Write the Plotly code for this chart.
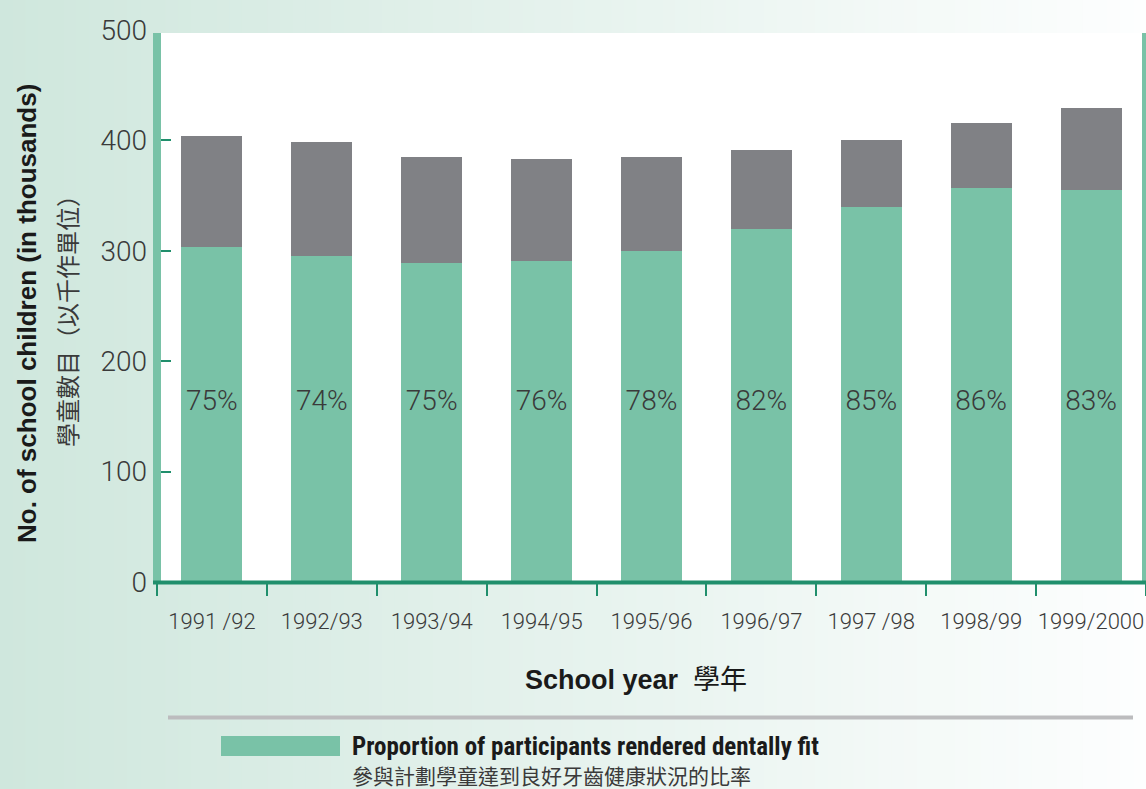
import plotly.graph_objects as go

# ---- data ----
school_years = ["1991 /92", "1992/93", "1993/94", "1994/95", "1995/96",
                "1996/97", "1997 /98", "1998/99", "1999/2000"]
total_children = [404, 399, 385, 383.5, 385, 391, 400, 416, 429]     # thousands
dentally_fit = [303, 295, 289, 291, 300, 320, 340, 357, 355.5]       # thousands
pct_labels = ["75%", "74%", "75%", "76%", "78%", "82%", "85%", "86%", "83%"]
not_fit = [t - f for t, f in zip(total_children, dentally_fit)]

W, H = 1146, 789
L, R, T, B = 157, 0, 30, 207
PW, PH = W - L - R, H - T - B


def px(p):
    return (p - L) / PW


def py(p):
    return (H - B - p) / PH


GREEN = "#79c2a7"
GRAY = "#808185"
DARK_GREEN = "#208f6c"
TXT = "#3a3a3a"
LIGHT = "Roboto, Open Sans, sans-serif"
NARROW = "Liberation Sans Narrow, Arial Narrow, Roboto Condensed, sans-serif"
SANS = "Liberation Sans, Arial, sans-serif"
CJK = "Noto Sans CJK TC, Noto Sans CJK SC, sans-serif"

fig = go.Figure()
fig.add_trace(go.Bar(x=school_years, y=dentally_fit, marker_color=GREEN,
                     marker_line_width=0, hoverinfo="skip", showlegend=False))
fig.add_trace(go.Bar(x=school_years, y=not_fit, marker_color=GRAY,
                     marker_line_width=0, hoverinfo="skip", showlegend=False))
fig.add_trace(go.Scatter(x=school_years, y=[162] * len(school_years), mode="text",
                         text=pct_labels, textposition="middle center",
                         textfont=dict(family=LIGHT, size=28, color=TXT, weight=300),
                         hoverinfo="skip", showlegend=False))

shapes = []
# background gradient (light green -> white)
n = 90
c0 = (207, 231, 221)
c1 = (253, 254, 254)
for i in range(n):
    f = i / (n - 1)
    col = "rgb(%d,%d,%d)" % tuple(round(a + (b - a) * f) for a, b in zip(c0, c1))
    x0 = W * i / n
    x1 = W * (i + 1) / n + 1
    shapes.append(dict(type="rect", xref="paper", yref="paper",
                       x0=px(x0), x1=px(x1), y0=py(H), y1=py(0),
                       fillcolor=col, line_width=0, layer="below"))
# white plot area
shapes.append(dict(type="rect", xref="paper", yref="paper",
                   x0=px(161), x1=px(1142), y0=py(582), y1=py(33),
                   fillcolor="white", line_width=0, layer="below"))
# green side borders
shapes.append(dict(type="rect", xref="paper", yref="paper",
                   x0=px(153), x1=px(161), y0=py(582), y1=py(33),
                   fillcolor=GREEN, line_width=0, layer="above"))
shapes.append(dict(type="rect", xref="paper", yref="paper",
                   x0=px(1142), x1=px(1147), y0=py(582), y1=py(33),
                   fillcolor=GREEN, line_width=0, layer="above"))
# bottom axis line
shapes.append(dict(type="line", xref="paper", yref="paper",
                   x0=px(153), x1=px(1147), y0=py(582.5), y1=py(582.5),
                   line=dict(color=DARK_GREEN, width=4), layer="above"))
# gray separator line
shapes.append(dict(type="line", xref="paper", yref="paper",
                   x0=px(168), x1=px(1133), y0=py(717.5), y1=py(717.5),
                   line=dict(color="#bcbcbe", width=4), layer="above"))
# legend swatch
shapes.append(dict(type="rect", xref="paper", yref="paper",
                   x0=px(221), x1=px(340), y0=py(756), y1=py(736),
                   fillcolor=GREEN, line_width=0, layer="above"))

annotations = [
    dict(text="<b>No. of school children (in thousands)</b>", textangle=-90,
         xref="paper", yref="paper", x=px(27), y=py(314), xanchor="center", yanchor="middle",
         showarrow=False, font=dict(family=SANS, size=26, color="#1a1a1a")),
    dict(text="學童數目（以千作單位）", textangle=-90,
         xref="paper", yref="paper", x=px(66), y=py(315), xanchor="center", yanchor="middle",
         showarrow=False, font=dict(family=CJK, size=24, color=TXT)),
    dict(text="<b>School year</b>  <span style='font-family:Noto Sans CJK TC'>學年</span>",
         xref="paper", yref="paper", x=px(636), y=py(677), xanchor="center", yanchor="middle",
         showarrow=False, font=dict(family=SANS, size=27, color="#1a1a1a")),
    dict(text="<b>Proportion of participants rendered dentally fit</b>",
         xref="paper", yref="paper", x=px(350), y=py(746), xanchor="left", yanchor="middle",
         showarrow=False, font=dict(family=NARROW, size=25, color="#1a1a1a")),
    dict(text="參與計劃學童達到良好牙齒健康狀況的比率",
         xref="paper", yref="paper", x=px(350), y=py(775), xanchor="left", yanchor="middle",
         showarrow=False, font=dict(family=CJK, size=21, color=TXT)),
]

fig.update_layout(
    width=W, height=H, autosize=False,
    margin=dict(l=L, r=R, t=T, b=B, pad=0),
    paper_bgcolor="rgba(0,0,0,0)", plot_bgcolor="rgba(0,0,0,0)",
    barmode="stack", bargap=0.445,
    shapes=shapes, annotations=annotations, showlegend=False,
    xaxis=dict(type="category", range=[-0.5, 8.5], showgrid=False, zeroline=False,
               showline=False, ticks="outside", tickson="boundaries", ticklen=13,
               tickwidth=2, tickcolor=DARK_GREEN, fixedrange=True, automargin=False,
               tickangle=0, ticklabelstandoff=24,
               tickfont=dict(family=LIGHT, size=22, color=TXT, weight=300)),
    yaxis=dict(range=[0, 500], tickvals=[0, 100, 200, 300, 400, 500], showgrid=False,
               zeroline=False, showline=False, ticks="inside", ticklen=14, tickwidth=2,
               tickcolor=DARK_GREEN, fixedrange=True, ticklabelstandoff=9, automargin=False,
               tickfont=dict(family=LIGHT, size=28, color=TXT, weight=300)),
)

fig.write_html("out.html", config={"displayModeBar": False})
